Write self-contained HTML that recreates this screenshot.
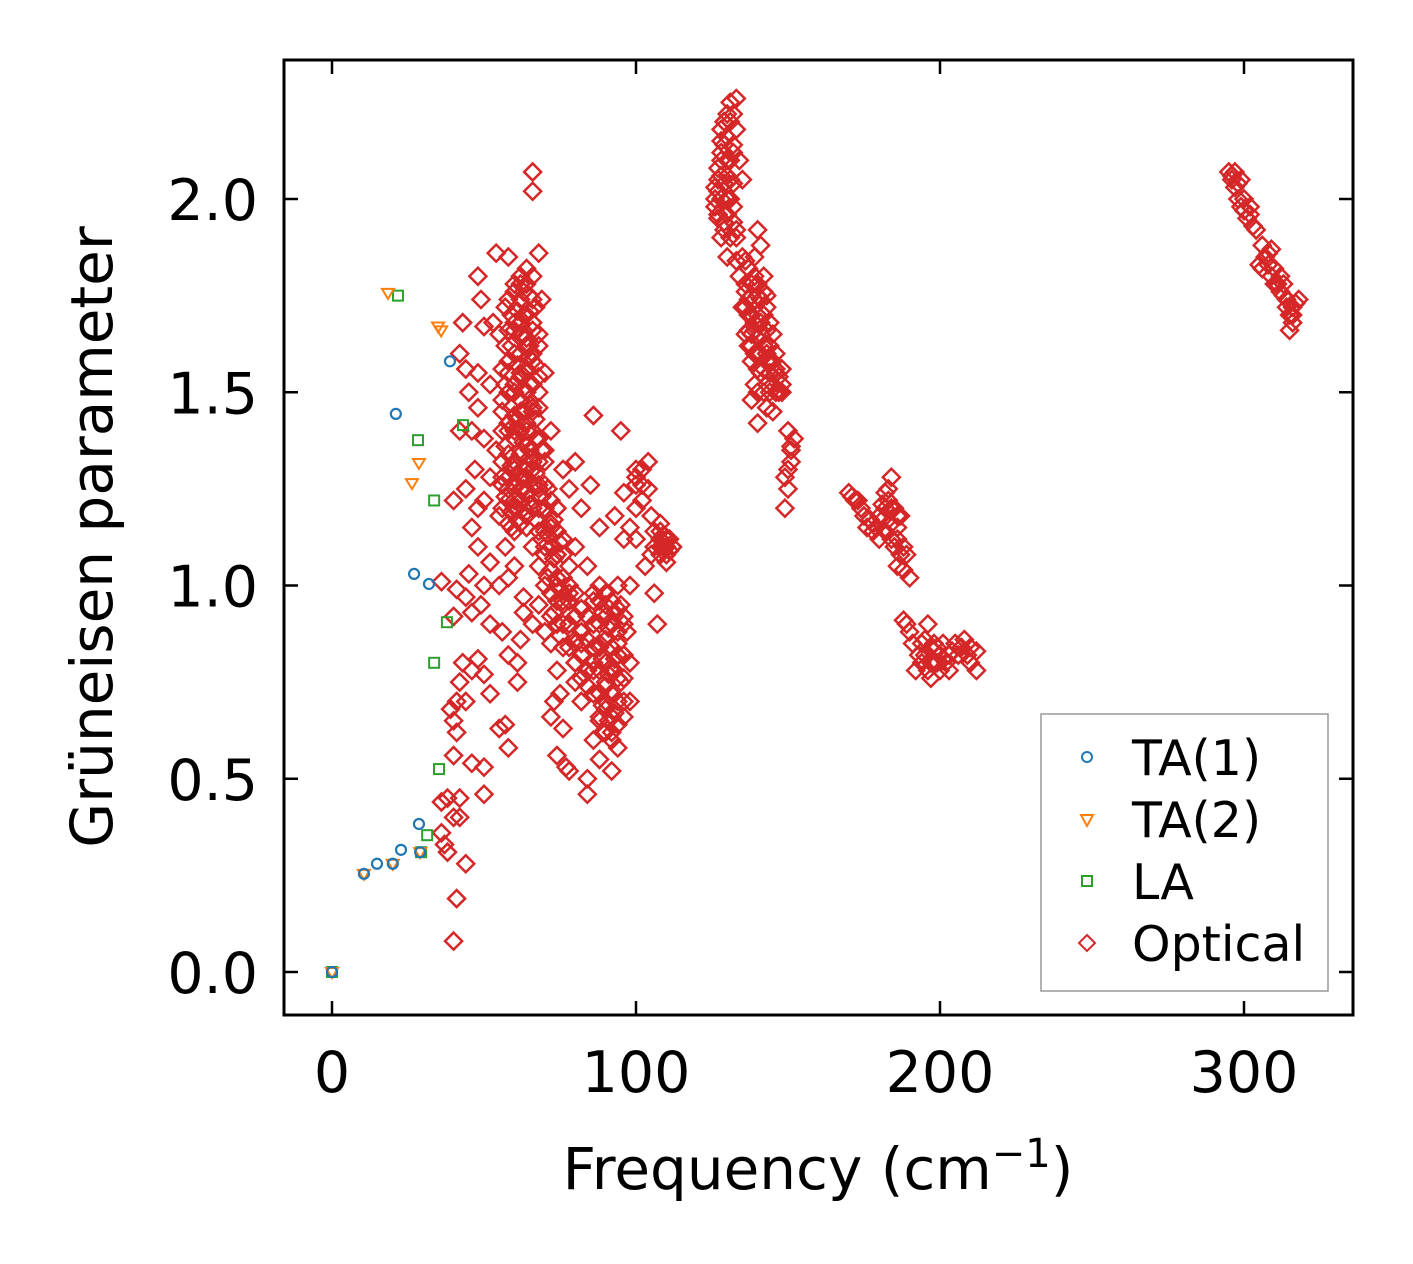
<!DOCTYPE html>
<html><head><meta charset="utf-8"><style>
html,body{margin:0;padding:0;background:#fff;}
svg{display:block;font-family:"DejaVu Sans","Liberation Sans",sans-serif;}
</style></head><body>
<svg id="chart" width="1413" height="1264" viewBox="0 0 1413 1264" xmlns="http://www.w3.org/2000/svg">
<rect width="1413" height="1264" fill="#fff"/>
<g id="marks"></g>
<rect x="284" y="60" width="1069" height="955" fill="none" stroke="#000" stroke-width="3"/>
<g id="ticks"></g>
<text x="818" y="1189" font-size="58" text-anchor="middle">Frequency (cm<tspan dy="-22" font-size="40">−1</tspan><tspan dy="22">)</tspan></text>
<text transform="translate(112,537) rotate(-90)" font-size="58" text-anchor="middle">Grüneisen parameter</text>
<g>
<rect x="1041" y="714" width="287" height="277" fill="#fff" stroke="#999" stroke-width="1.5"/>
<circle cx="1087" cy="757" r="5" fill="none" stroke="#1f77b4" stroke-width="2"/>
<text x="1132" y="775" font-size="49">TA(1)</text>
<path d="M1081,815 L1093,815 L1087,826 Z" fill="none" stroke="#ff7f0e" stroke-width="2"/>
<text x="1132" y="837" font-size="49">TA(2)</text>
<rect x="1082" y="876" width="10" height="10" fill="none" stroke="#2ca02c" stroke-width="2"/>
<text x="1132" y="899" font-size="49">LA</text>
<path d="M1087,935 L1095,943 L1087,951 L1079,943 Z" fill="none" stroke="#d62728" stroke-width="2"/>
<text x="1132" y="961" font-size="49">Optical</text>
</g>
</svg>
<script>
const xTicks=[0,100,200,300];
const xTickLabels=["0","100","200","300"];
const yTicks=[0,0.5,1.0,1.5,2.0];
const yTickLabels=["0.0","0.5","1.0","1.5","2.0"];
const ta1X=[0,10.5,14.8,20,22.7,28.6,21,27,31.9,38.8,29];
const ta1Y=[0,0.254,0.28,0.28,0.316,0.383,1.444,1.03,1.004,1.58,0.31];
const ta2X=[0,10.5,18.4,34.9,35.9,28.6,26.3,20,29];
const ta2Y=[0,0.254,1.757,1.67,1.66,1.317,1.265,0.28,0.31];
const laX=[0,21.7,28.3,33.6,37.8,33.6,35.2,31.3,29.3,43.1];
const laY=[0,1.75,1.376,1.22,0.905,0.8,0.525,0.354,0.31,1.415];
const optical=[[40,0.08],[41,0.19],[44,0.28],[38,0.31],[37,0.33],[36,0.36],[36,0.44],[38,0.45],[42,0.45],[40,0.4],[42,0.4],[46,0.54],[50,0.53],[50,0.46],[40,0.56],[41,0.62],[40,0.65],[39,0.68],[41,0.7],[44,0.7],[42,0.75],[43,0.8],[46,0.78],[48,0.81],[50,0.77],[52,0.72],[55,0.63],[57,0.64],[58,0.58],[58,0.82],[61,0.75],[61,0.8],[62,0.86],[63,0.93],[56,0.88],[52,0.9],[49,0.95],[46,0.93],[44,0.97],[41,0.99],[40,0.92],[36,1.01],[45,1.03],[50,1.0],[55,1.0],[58,1.02],[63,0.97],[66,0.9],[68,0.95],[70,0.88],[72,0.92],[60,1.05],[52,1.06],[48,1.1],[46,1.15],[48,1.2],[40,1.22],[44,1.25],[50,1.22],[55,1.18],[60,1.22],[63,1.2],[47,1.3],[52,1.28],[54,1.35],[50,1.38],[46,1.4],[48,1.46],[42,1.4],[45,1.5],[48,1.55],[52,1.52],[56,1.45],[58,1.40],[58,1.55],[60,1.5],[62,1.45],[60,1.6],[62,1.65],[64,1.55],[65,1.62],[63,1.7],[65,1.75],[66,1.8],[62,1.78],[58,1.85],[54,1.86],[60,1.78],[57,1.72],[55,1.65],[53,1.68],[50,1.67],[49,1.74],[48,1.8],[43,1.68],[42,1.6],[44,1.56],[66,2.07],[66,2.02],[68,1.86],[64,1.82],[67,1.72],[69,1.74],[68,1.65],[70,1.55],[68,1.5],[66,1.45],[64,1.4],[62,1.35],[60,1.3],[58,1.25],[56,1.28],[66,1.3],[68,1.25],[70,1.35],[72,1.4],[70,1.2],[72,1.15],[74,1.2],[76,1.12],[64,1.15],[66,1.1],[68,1.05],[70,1.0],[74,1.0],[76,0.95],[78,0.9],[80,0.92],[72,0.85],[74,0.78],[75,0.72],[73,0.7],[72,0.66],[76,0.63],[74,0.56],[78,0.52],[77,0.53],[80,0.8],[80,0.75],[82,0.7],[78,1.05],[80,1.1],[82,1.2],[78,1.25],[76,1.3],[80,1.32],[85,1.26],[88,1.15],[86,1.44],[95,1.4],[84,1.05],[86,0.98],[88,1.0],[90,0.95],[92,0.9],[94,0.85],[96,0.82],[98,0.8],[95,0.75],[92,0.72],[90,0.7],[88,0.65],[86,0.6],[84,0.5],[84,0.46],[88,0.55],[92,0.52],[94,0.58],[92,0.62],[96,0.66],[98,0.7],[96,0.92],[98,1.0],[90,0.8],[88,0.85],[86,0.9],[82,0.85],[84,0.78],[93,1.18],[96,1.12],[98,1.15],[100,1.12],[102,1.3],[104,1.25],[105,1.18],[103,1.05],[105,1.08],[106,0.98],[107,0.9],[100,1.2],[100,1.28],[96,1.24],[108,1.1],[110,1.1],[112,1.1],[110,1.06],[108,1.14],[104,1.32],[62,1.25],[64,1.28],[60,1.4],[64,1.5],[66,1.58],[62,1.55],[64,1.62],[66,1.68],[60,1.66],[63,1.45],[65,1.35],[67,1.38],[61,1.2],[59,1.15],[57,1.1],[70,1.1],[74,1.08],[78,0.98],[80,0.85],[86,0.8],[90,0.75],[93,0.78],[95,0.95],[97,0.88],[89,0.62],
[126,2.0],[127,2.05],[128,2.1],[128,2.15],[129,2.2],[130,2.22],[131,2.25],[133,2.26],[130,2.1],[130,2.0],[126,1.98],[127,1.95],[128,1.9],[129,1.92],[131,2.05],[132,2.12],[133,2.18],[134,2.1],[132,1.98],[131,1.9],[133,1.92],[135,2.05],[130,1.85],[135,1.85],[134,1.8],[136,1.78],[137,1.82],[139,1.85],[140,1.92],[141,1.88],[138,1.75],[137,1.7],[139,1.68],[140,1.75],[142,1.8],[143,1.75],[136,1.65],[137,1.62],[138,1.58],[140,1.6],[141,1.65],[142,1.7],[144,1.68],[145,1.65],[143,1.6],[141,1.55],[140,1.5],[139,1.52],[138,1.48],[142,1.5],[144,1.55],[146,1.55],[147,1.5],[148,1.52],[146,1.6],[145,1.45],[140,1.42],[143,1.46],[150,1.4],[151,1.35],[150,1.3],[149,1.28],[150,1.25],[149,1.2],[152,1.38],[135,1.72],[138,1.65],[142,1.62],
[170,1.24],[172,1.22],[174,1.2],[175,1.18],[176,1.15],[178,1.16],[180,1.18],[182,1.2],[183,1.25],[184,1.28],[183,1.22],[185,1.2],[186,1.15],[184,1.12],[185,1.1],[188,1.1],[186,1.05],[188,1.04],[190,1.02],[180,1.12],[178,1.14],[173,1.22],[187,1.18],[189,1.08],[188,0.91],[189,0.9],[190,0.88],[191,0.85],[193,0.82],[194,0.8],[196,0.78],[197,0.76],[198,0.8],[200,0.82],[202,0.8],[204,0.83],[205,0.85],[207,0.84],[209,0.82],[210,0.8],[212,0.78],[212,0.83],[208,0.86],[196,0.9],[194,0.85],[192,0.78],[198,0.85],[200,0.78],[203,0.78],
[295,2.07],[296,2.05],[297,2.03],[298,2.0],[299,1.98],[300,1.97],[301,1.95],[303,1.93],[304,1.92],[306,1.88],[307,1.85],[306,1.82],[308,1.83],[309,1.8],[310,1.82],[311,1.78],[312,1.76],[313,1.75],[314,1.72],[315,1.7],[316,1.68],[315,1.66],[317,1.73],[318,1.74],[312,1.8],[309,1.87],[305,1.83],[297,2.07],[299,2.05],[302,1.98]];
// dense core points grouped by frequency column: [x, [gamma values]]
const opticalDense=[
[56,[1.2,1.26,1.32,1.4,1.48,1.56]],
[57,[1.23,1.36,1.52,1.62]],
[58,[1.16,1.22,1.28,1.34,1.42,1.5,1.58,1.66,1.74]],
[59,[1.19,1.31,1.46,1.62,1.7]],
[60,[1.14,1.2,1.26,1.32,1.38,1.44,1.52,1.6,1.68,1.76]],
[61,[1.17,1.29,1.43,1.57,1.71]],
[62,[1.16,1.22,1.28,1.34,1.4,1.48,1.54,1.6,1.68,1.74,1.8]],
[63,[1.25,1.37,1.51,1.65,1.76]],
[64,[1.18,1.24,1.3,1.36,1.42,1.5,1.56,1.64,1.7,1.78]],
[65,[1.21,1.33,1.47,1.59,1.71]],
[66,[1.2,1.26,1.32,1.4,1.46,1.52,1.6,1.66,1.74]],
[67,[1.17,1.29,1.43,1.57]],
[68,[1.14,1.2,1.26,1.32,1.38,1.46,1.54,1.62]],
[69,[1.12,1.23,1.35]],
[70,[1.08,1.14,1.2,1.26,1.32]],
[71,[1.02,1.13,1.25]],
[72,[0.98,1.04,1.1,1.16,1.22]],
[73,[0.93,1.07,1.17]],
[74,[0.9,0.96,1.02,1.08,1.14,1.2]],
[75,[0.87,0.99,1.11]],
[76,[0.84,0.9,0.96,1.02,1.08]],
[78,[0.84,0.9,0.96,1.0]],
[80,[0.8,0.86,0.92,0.98]],
[82,[0.76,0.82,0.88,0.94]],
[84,[0.74,0.86,0.92]],
[86,[0.72,0.78,0.84,0.9,0.96]],
[88,[0.66,0.72,0.78,0.84,0.9,0.96]],
[89,[0.69,0.81,0.93]],
[90,[0.62,0.68,0.74,0.8,0.86,0.92,0.98]],
[91,[0.65,0.77,0.89]],
[92,[0.6,0.66,0.72,0.78,0.84,0.9,0.96]],
[93,[0.67,0.81,0.93]],
[94,[0.64,0.7,0.76,0.82,0.88,0.94,1.0]],
[96,[0.7,0.76,0.82,0.9]],
[100,[1.26,1.3]],[102,[1.22,1.26]],
[106,[1.1,1.14]],[108,[1.08,1.12,1.16]],[109,[1.1,1.13]],[110,[1.08,1.12]],[111,[1.09,1.12]],[112,[1.1]],
[126,[2.03]],[127,[1.96,2.02,2.08]],[128,[2.0,2.06,2.12,2.18]],[129,[1.94,2.04,2.14,2.2]],[130,[1.96,2.06,2.16]],[131,[2.0,2.1,2.2]],[132,[1.94,2.04,2.14,2.22]],[133,[1.84,1.9]],
[136,[1.72,1.76,1.84]],[137,[1.66,1.74]],[138,[1.62,1.7,1.78]],[139,[1.6,1.66,1.74,1.8]],[140,[1.56,1.64,1.7,1.78]],[141,[1.6,1.68,1.74]],[142,[1.56,1.62,1.7,1.76]],[143,[1.52,1.58,1.66,1.72]],[144,[1.5,1.58,1.62]],[145,[1.52,1.58]],[146,[1.5,1.56]],[147,[1.54]],[148,[1.5,1.56]],[151,[1.32,1.36]],
[171,[1.23]],[177,[1.17]],[179,[1.15]],[181,[1.17,1.21]],[182,[1.14,1.24]],[184,[1.16,1.2]],[186,[1.12,1.18]],[187,[1.08]],
[195,[0.82,0.86]],[197,[0.8,0.84]],[199,[0.8,0.84]],[201,[0.81,0.85]],[203,[0.82]],[206,[0.82]],[210,[0.84]],
[296,[2.06]],[298,[2.04]],[300,[2.0]],[302,[1.96]],[308,[1.86]],[310,[1.78]],[313,[1.78]],[314,[1.74]],[316,[1.72,1.7]]];

const NS="http://www.w3.org/2000/svg";
function xs(v){return 332+v*3.04;}
function ys(v){return 972-v*386.5;}
const marks=document.getElementById('marks');
const ticks=document.getElementById('ticks');
function mk(tag,attrs,parent){const e=document.createElementNS(NS,tag);for(const k in attrs)e.setAttribute(k,attrs[k]);parent.appendChild(e);return e;}
function diamond(fx,fy){const x=xs(fx),y=ys(fy);
 const e=mk('path',{d:`M${x},${y-8.5} L${x+8.5},${y} L${x},${y+8.5} L${x-8.5},${y} Z`,fill:'none',stroke:'#d62728','stroke-width':2.5},marks);
 
 }
optical.forEach(p=>diamond(p[0],p[1]));
opticalDense.forEach(c=>c[1].forEach(g=>diamond(c[0],g)));
laX.forEach((v,i)=>{const x=xs(v),y=ys(laY[i]);
 const e=mk('rect',{x:x-5,y:y-5,width:10,height:10,fill:'none',stroke:'#2ca02c','stroke-width':2},marks);
 
 });
ta2X.forEach((v,i)=>{const x=xs(v),y=ys(ta2Y[i]);
 const e=mk('path',{d:`M${x-6},${y-4} L${x+6},${y-4} L${x},${y+6} Z`,fill:'none',stroke:'#ff7f0e','stroke-width':2},marks);
 
 });
ta1X.forEach((v,i)=>{const e=mk('circle',{cx:xs(v),cy:ys(ta1Y[i]),r:5,fill:'none',stroke:'#1f77b4','stroke-width':2.2},marks);
 
 });

xTicks.forEach((v,i)=>{const x=xs(v);
 mk('line',{x1:x,x2:x,y1:1015,y2:1001,stroke:'#000','stroke-width':2.5},ticks);
 mk('line',{x1:x,x2:x,y1:60,y2:74,stroke:'#000','stroke-width':2.5},ticks);
 const t=mk('text',{x:x,y:1092,'font-size':57,'text-anchor':'middle'},ticks);t.textContent=xTickLabels[i];
 
 });
yTicks.forEach((v,i)=>{const y=ys(v);
 mk('line',{x1:284,x2:298,y1:y,y2:y,stroke:'#000','stroke-width':2.5},ticks);
 mk('line',{x1:1353,x2:1339,y1:y,y2:y,stroke:'#000','stroke-width':2.5},ticks);
 const t=mk('text',{x:258,y:y+21,'font-size':57,'text-anchor':'end'},ticks);t.textContent=yTickLabels[i];
 
 });
</script>
</body></html>
